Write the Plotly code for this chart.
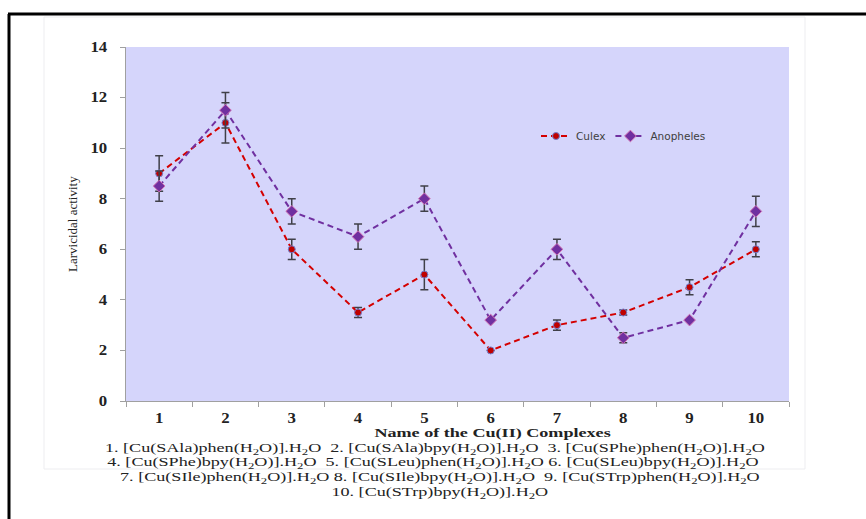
import plotly.graph_objects as go

categories = [1, 2, 3, 4, 5, 6, 7, 8, 9, 10]
culex = [9.0, 11.0, 6.0, 3.5, 5.0, 2.0, 3.0, 3.5, 4.5, 6.0]
culex_err = [0.7, 0.8, 0.4, 0.2, 0.6, 0.0, 0.2, 0.1, 0.3, 0.3]
anopheles = [8.5, 11.5, 7.5, 6.5, 8.0, 3.2, 6.0, 2.5, 3.2, 7.5]
anopheles_err = [0.6, 0.7, 0.5, 0.5, 0.5, 0.0, 0.4, 0.2, 0.0, 0.6]
y_ticks = [0, 2, 4, 6, 8, 10, 12, 14]
complex_lines = [
    "1. [Cu(SAla)phen(H<sub>2</sub>O)].H<sub>2</sub>O  2. [Cu(SAla)bpy(H<sub>2</sub>O)].H<sub>2</sub>O  3. [Cu(SPhe)phen(H<sub>2</sub>O)].H<sub>2</sub>O",
    "4. [Cu(SPhe)bpy(H<sub>2</sub>O)].H<sub>2</sub>O  5. [Cu(SLeu)phen(H<sub>2</sub>O)].H<sub>2</sub>O 6. [Cu(SLeu)bpy(H<sub>2</sub>O)].H<sub>2</sub>O",
    "7. [Cu(SIle)phen(H<sub>2</sub>O)].H<sub>2</sub>O 8. [Cu(SIle)bpy(H<sub>2</sub>O)].H<sub>2</sub>O  9. [Cu(STrp)phen(H<sub>2</sub>O)].H<sub>2</sub>O",
    "10. [Cu(STrp)bpy(H<sub>2</sub>O)].H<sub>2</sub>O",
]

serif = "Liberation Serif, Times New Roman, serif"
W, H = 866, 519
L, R, T, B = 126, 789, 47, 401

def px(x):
    return (x - L) / (R - L)

def py(y):
    return (B - y) / (B - T)

fig = go.Figure()
fig.add_trace(go.Scatter(
    x=categories, y=culex, name="Culex", mode="lines+markers",
    line=dict(color="#D40000", width=2, dash="6px,4px"),
    marker=dict(symbol="circle", size=7, color="#C00000", line=dict(color="#7080D0", width=1)),
    error_y=dict(type="data", array=culex_err, visible=True, color="#404048", thickness=1.5, width=4),
))
fig.add_trace(go.Scatter(
    x=categories, y=anopheles, name="Anopheles", mode="lines+markers",
    line=dict(color="#7030A0", width=2, dash="6px,4px"),
    marker=dict(symbol="diamond", size=9, color="#7030A0", line=dict(color="#D070B0", width=1)),
    error_y=dict(type="data", array=anopheles_err, visible=True, color="#404048", thickness=1.5, width=4),
))

shapes = [
    dict(type="rect", xref="paper", yref="paper", x0=px(44), x1=px(805), y0=py(469), y1=py(17),
         line=dict(color="#EDEDF0", width=1), layer="below"),
    dict(type="line", xref="paper", yref="paper", x0=px(9), x1=px(9), y0=py(530), y1=py(14),
         line=dict(color="black", width=3)),
    dict(type="line", xref="paper", yref="paper", x0=px(8), x1=px(870), y0=py(14), y1=py(14),
         line=dict(color="black", width=3)),
]

line_centers = [435, 433, 440, 440]
annotations = []
for i, t in enumerate(complex_lines):
    annotations.append(dict(
        text=t, xref="paper", yref="paper", x=px(line_centers[i]), y=py(449 + i * 14.5),
        showarrow=False, xanchor="center", yanchor="middle",
        font=dict(family=serif, size=12.5, color="#222"),
    ))
annotations.append(dict(
    text="<b>Name of the Cu(II) Complexes</b>", xref="paper", yref="paper",
    x=px(492), y=py(433), showarrow=False, xanchor="center", yanchor="middle",
    font=dict(family=serif, size=12.5, color="#222"),
))
annotations.append(dict(
    text="Larvicidal activity", xref="paper", yref="paper",
    x=px(72), y=py(224), showarrow=False, xanchor="center", yanchor="middle",
    textangle=-90, font=dict(family=serif, size=13, color="#222"),
))

fig.update_layout(
    width=W, height=H,
    margin=dict(l=L, r=W - R, t=T, b=H - B, pad=0),
    paper_bgcolor="white",
    plot_bgcolor="#D5D5FB",
    showlegend=True,
    legend=dict(
        x=px(536), y=py(136), xanchor="left", yanchor="middle",
        orientation="h", bgcolor="rgba(0,0,0,0)",
        font=dict(family="DejaVu Sans, sans-serif", size=10.5, color="#404040"),
        tracegroupgap=0,
    ),
    xaxis=dict(
        range=[0.5, 10.5], tickmode="array", tickvals=categories,
        ticktext=[f"<b>{c}</b>" for c in categories],
        showgrid=False, zeroline=False, showline=True, linecolor="#A0A0A0", linewidth=1,
        ticks="", tickfont=dict(family=serif, size=14, color="#222"),
        ticklabelstandoff=4,
        minor=dict(tickmode="array", tickvals=[c + 0.5 for c in [0] + categories],
                   ticks="outside", ticklen=5, tickcolor="#A0A0A0"),
    ),
    yaxis=dict(
        range=[0, 14], tickmode="array", tickvals=y_ticks,
        ticktext=[f"<b>{v}</b>" for v in y_ticks],
        showgrid=False, zeroline=False, showline=True, linecolor="#A0A0A0", linewidth=1,
        ticks="outside", ticklen=5, tickcolor="#A0A0A0",
        tickfont=dict(family=serif, size=14, color="#222"),
        ticklabelstandoff=10,
    ),
    shapes=shapes,
    annotations=annotations,
)

post = """
document.body.style.margin='0px';
document.body.style.overflow='hidden';
function stretch(el, f, anchorEnd){
  var b = el.getBBox();
  var cx = anchorEnd ? b.x + b.width : b.x + b.width / 2;
  var old = el.getAttribute('transform') || '';
  el.setAttribute('transform', old + ' translate(' + cx + ',0) scale(' + f + ',1) translate(' + (-cx) + ',0)');
}
document.querySelectorAll('g.annotation').forEach(function(g){
  var idx = parseInt(g.getAttribute('data-index'));
  if (idx <= 4) {
    g.querySelectorAll('text.annotation-text').forEach(function(t){ stretch(t, 1.45, false); });
  }
});
document.querySelectorAll('g.xtick text').forEach(function(t){ stretch(t, 1.2, false); });
document.querySelectorAll('g.ytick text').forEach(function(t){ stretch(t, 1.2, true); });
"""

fig.write_html("out.html", config={"displayModeBar": False}, post_script=post)
